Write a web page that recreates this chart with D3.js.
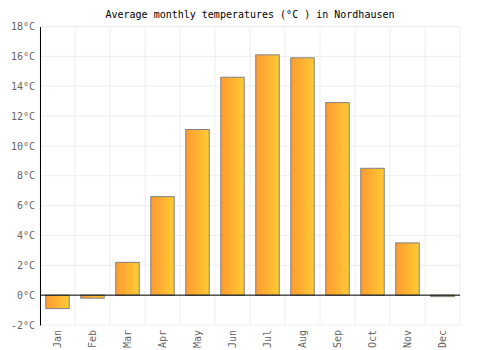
<!DOCTYPE html>
<html>
<head>
<meta charset="utf-8">
<script src="https://cdn.jsdelivr.net/npm/d3@7"></script>
<style>
    body { margin: 0; background: #fff; }
    text { font-family: "DejaVu Sans Mono", monospace; }
</style>
</head>
<body>
<div id="chart"></div>
<script>
const months = ["Jan", "Feb", "Mar", "Apr", "May", "Jun", "Jul", "Aug", "Sep", "Oct", "Nov", "Dec"];
const temps = [-0.9, -0.2, 2.2, 6.6, 11.1, 14.6, 16.1, 15.9, 12.9, 8.5, 3.5, -0.1];
const yTicks = [-2, 0, 2, 4, 6, 8, 10, 12, 14, 16, 18];

const width = 500, height = 350;
const margin = { top: 26.5, right: 40, bottom: 25, left: 40 };

const svg = d3.select('#chart')
    .append('svg')
    .attr('width', width)
    .attr('height', height);

// gradient for bars
const grad = svg.append('defs').append('linearGradient')
    .attr('id', 'barGrad')
    .attr('x1', '0%').attr('x2', '100%')
    .attr('y1', '0%').attr('y2', '0%');
grad.append('stop').attr('offset', '0%').attr('stop-color', '#ff9a30');
grad.append('stop').attr('offset', '100%').attr('stop-color', '#ffcb35');

const xScale = d3.scaleBand()
    .domain(months)
    .range([margin.left, width - margin.right])
    .paddingInner(0.33)
    .paddingOuter(0.165);

const yScale = d3.scaleLinear()
    .domain([-2, 18])
    .range([height - margin.bottom, margin.top]);

// gridlines
const step = (width - margin.left - margin.right) / months.length;
svg.append('g')
    .selectAll('line')
    .data(d3.range(months.length + 1))
    .enter()
    .append('line')
    .attr('x1', i => margin.left + i * step)
    .attr('x2', i => margin.left + i * step)
    .attr('y1', yScale(18))
    .attr('y2', yScale(-2))
    .attr('stroke', '#eeeeee');

svg.append('g')
    .selectAll('line')
    .data(yTicks)
    .enter()
    .append('line')
    .attr('x1', margin.left)
    .attr('x2', width - margin.right)
    .attr('y1', d => yScale(d))
    .attr('y2', d => yScale(d))
    .attr('stroke', '#eeeeee');

// bars
svg.append('g')
    .selectAll('rect')
    .data(temps)
    .enter()
    .append('rect')
    .attr('x', (d, i) => xScale(months[i]))
    .attr('width', xScale.bandwidth())
    .attr('y', d => yScale(Math.max(0, d)))
    .attr('height', d => Math.abs(yScale(d) - yScale(0)))
    .attr('fill', 'url(#barGrad)')
    .attr('stroke', '#808080')
    .attr('stroke-width', 1);

// zero line
svg.append('line')
    .attr('x1', margin.left)
    .attr('x2', width - margin.right)
    .attr('y1', yScale(0))
    .attr('y2', yScale(0))
    .attr('stroke', '#000');

// y axis
const yAxis = d3.axisLeft(yScale)
    .tickValues(yTicks)
    .tickSize(0)
    .tickPadding(5)
    .tickFormat(d => d + '°C');

const yG = svg.append('g')
    .attr('transform', `translate(${margin.left},0)`)
    .call(yAxis);
yG.select('.domain').attr('stroke', '#000');
yG.selectAll('text')
    .attr('fill', '#666')
    .style('font-size', '10px')
    .style('font-family', '"DejaVu Sans Mono", monospace');

// x axis
const xAxis = d3.axisBottom(xScale).tickSize(0).tickPadding(6);
const xG = svg.append('g')
    .attr('transform', `translate(0,${height - margin.bottom})`)
    .call(xAxis);
xG.select('.domain').remove();
xG.selectAll('text')
    .attr('fill', '#666')
    .style('font-size', '10px')
    .style('font-family', '"DejaVu Sans Mono", monospace')
    .attr('text-anchor', 'end')
    .attr('transform', 'rotate(-90)')
    .attr('x', -5)
    .attr('y', 0)
    .attr('dy', '0.35em');

// title
svg.append('text')
    .attr('x', width / 2)
    .attr('y', 18)
    .attr('text-anchor', 'middle')
    .style('font-size', '10px')
    .attr('fill', '#000')
    .text('Average monthly temperatures (°C ) in Nordhausen');
</script>
</body>
</html>
